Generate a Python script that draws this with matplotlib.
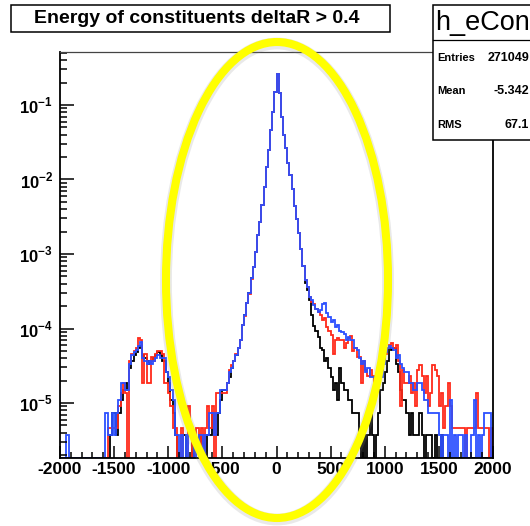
import numpy as np
import matplotlib.pyplot as plt
from matplotlib.patches import Ellipse, Rectangle
from matplotlib.lines import Line2D
from matplotlib.ticker import MultipleLocator, LogLocator, FuncFormatter, NullFormatter

plt.rcParams['font.family'] = ['Liberation Sans', 'DejaVu Sans']
plt.rcParams['mathtext.fontset'] = 'custom'
plt.rcParams['mathtext.rm'] = 'Liberation Sans'
plt.rcParams['mathtext.bf'] = 'Liberation Sans:bold'
plt.rcParams['axes.unicode_minus'] = False

# 200 bins of 20 from -2000 to 2000
edges = np.linspace(-2000, 2000, 201)
entries = 271049
entries_red = 217000

counts_black = [
    0, 0, 0, 0, 0, 0, 0, 0, 0, 0, 0, 0, 0, 0, 0, 0, 0, 0, 0, 0,
    0, 0, 0, 1, 2, 2, 1, 2, 3, 4, 5, 4, 8, 10, 12, 13, 15, 16, 12, 11,
    10, 9, 10, 11, 12, 13, 12, 10, 10, 7, 5, 3, 2, 1, 0, 0, 0, 1, 0, 0,
    0, 1, 0, 0, 1, 0, 1, 0, 1, 1, 2, 1, 1, 2, 3, 4, 4, 5, 6, 8,
    10, 12, 15, 19, 30, 41, 60, 82, 130, 180, 290, 490, 720, 1230, 2150, 3980, 6800, 12500, 21900, 40600,
    70800, 39400, 18700, 10700, 7080, 4470, 3090, 2000, 1200, 794, 525, 316, 186, 110, 90, 65, 41, 29, 25, 21,
    15, 14, 10, 11, 8, 6, 4, 5, 3, 8, 5, 4, 4, 3, 3, 2, 2, 2, 1, 0,
    1, 0, 1, 2, 1, 0, 1, 2, 4, 5, 7, 10, 15, 14, 15, 9, 7, 4, 3, 3,
    2, 1, 2, 1, 1, 1, 2, 1, 0, 1, 1, 1, 0, 1, 0, 0, 1, 0, 0, 0,
    0, 0, 0, 0, 0, 0, 0, 0, 0, 0, 0, 0, 0, 0, 0, 0, 0, 0, 0, 0,
]

counts_red = [
    0, 0, 0, 0, 0, 0, 0, 0, 0, 0, 0, 0, 0, 0, 0, 0, 0, 0, 0, 0,
    0, 0, 1, 1, 1, 1, 1, 2, 3, 4, 3, 0, 8, 10, 11, 12, 16, 15, 4, 10,
    4, 4, 9, 8, 10, 11, 11, 10, 4, 4, 3, 2, 1, 1, 0, 0, 1, 0, 0, 2,
    1, 0, 0, 1, 0, 1, 0, 1, 2, 1, 2, 0, 3, 3, 3, 3, 3, 4, 6, 7,
    8, 10, 12, 15, 24, 32, 48, 64, 100, 145, 230, 390, 575, 985, 1720, 3180, 5440, 10000, 17500, 32500,
    56600, 31500, 15000, 8560, 5660, 3580, 2470, 1600, 960, 635, 420, 250, 150, 96, 78, 58, 50, 46, 40, 36,
    33, 28, 30, 23, 20, 18, 10, 15, 16, 15, 15, 12, 14, 16, 17, 11, 12, 9, 9, 4,
    8, 6, 5, 6, 5, 4, 4, 5, 6, 8, 10, 12, 13, 14, 12, 13, 8, 2, 6, 4,
    4, 5, 3, 4, 2, 6, 7, 5, 3, 5, 2, 3, 7, 6, 5, 2, 3, 1, 2, 4,
    2, 1, 1, 1, 1, 1, 1, 0, 1, 1, 1, 1, 3, 1, 1, 1, 1, 1, 0, 1,
]

counts_blue = [
    0, 0, 0, 1, 0, 0, 0, 0, 0, 0, 0, 0, 0, 0, 0, 0, 0, 0, 0, 0,
    0, 2, 1, 1, 2, 1, 2, 3, 5, 5, 4, 4, 9, 12, 13, 14, 16, 18, 11, 10,
    9, 10, 9, 10, 11, 12, 11, 11, 11, 7, 6, 4, 3, 1, 1, 0, 1, 0, 1, 0,
    0, 0, 1, 0, 1, 1, 0, 1, 1, 2, 2, 1, 2, 2, 4, 4, 4, 5, 7, 8,
    10, 12, 15, 19, 30, 41, 60, 82, 130, 180, 290, 490, 720, 1230, 2150, 3980, 6800, 12500, 21900, 40600,
    70800, 39400, 18700, 10700, 7080, 4470, 3090, 2000, 1200, 794, 525, 316, 186, 120, 98, 72, 66, 56, 50, 45,
    48, 58, 60, 44, 39, 33, 35, 28, 30, 25, 24, 23, 19, 21, 19, 19, 15, 14, 11, 9,
    10, 7, 8, 6, 6, 6, 5, 5, 6, 9, 13, 15, 16, 15, 14, 11, 12, 9, 8, 7,
    7, 5, 5, 4, 4, 5, 5, 4, 3, 3, 2, 2, 2, 2, 2, 1, 0, 1, 1, 0,
    3, 0, 1, 0, 1, 1, 0, 1, 0, 0, 1, 3, 0, 1, 0, 1, 2, 2, 2, 0,
]

title = 'Energy of constituents deltaR > 0.4'
stats_name = 'h_eCon'
stats_rows = [('Entries', '271049'), ('Mean', '-5.342'), ('RMS', '67.1')]

W, H = 530, 526
ymin, ymax = 1.83e-6, 0.514

fig = plt.figure(figsize=(W / 100, H / 100), dpi=100)
ax = fig.add_axes([60 / W, 1 - 458 / H, 433 / W, 406 / H])


def scaled(counts, n):
    v = np.asarray(counts, dtype=float) / n
    # empty bins sit on the bottom of the frame, like ROOT does on a log axis
    return np.where(v > 0, v, ymin)


for counts, n, col in [(counts_black, entries, 'black'),
                       (counts_red, entries_red, '#ff2a1a'),
                       (counts_blue, entries, '#2b4fff')]:
    ax.stairs(scaled(counts, n), edges, baseline=ymin, color=col, lw=1.3)

ax.set_yscale('log')
ax.set_xlim(-2000, 2000)
ax.set_ylim(ymin, ymax)

ax.xaxis.set_major_locator(MultipleLocator(500))
ax.xaxis.set_minor_locator(MultipleLocator(100))
ax.yaxis.set_major_locator(LogLocator(base=10, numticks=12))
ax.yaxis.set_minor_locator(LogLocator(base=10, subs=np.arange(2, 10), numticks=12))
ax.yaxis.set_minor_formatter(NullFormatter())
ax.yaxis.set_major_formatter(FuncFormatter(
    lambda v, p: r'$\mathbf{10}^{\mathbf{%d}}$' % round(np.log10(v))))

ax.tick_params(which='both', direction='in', top=False, right=False, color='black')
ax.tick_params(axis='x', which='major', length=8.5, width=1.1, pad=3)
ax.tick_params(axis='x', which='minor', length=4.3, width=1.1)
ax.tick_params(axis='y', which='major', length=10, width=1.1, pad=5)
ax.tick_params(axis='y', which='minor', length=5, width=1.1)
for lab in ax.get_xticklabels():
    lab.set_fontsize(12.5)
    lab.set_fontweight('bold')
for lab in ax.get_yticklabels():
    lab.set_fontsize(12)

for side in ['left', 'bottom', 'right']:
    ax.spines[side].set_linewidth(1.3)
    ax.spines[side].set_color('black')
ax.spines['top'].set_linewidth(0.9)
ax.spines['top'].set_color('#444444')

# title box
fig.add_artist(Rectangle((11 / W, 1 - 32 / H), 379 / W, 27 / H, transform=fig.transFigure,
                         facecolor='white', edgecolor='black', lw=1.1, zorder=2))
fig.text(197 / W, 1 - 18.5 / H, title, ha='center', va='center',
         fontsize=14, fontweight='bold', zorder=3)

# statistics box, running off the right edge
fig.add_artist(Rectangle((433 / W, 1 - 140 / H), 120 / W, 135 / H, transform=fig.transFigure,
                         facecolor='white', edgecolor='black', lw=1.1, zorder=2))
fig.add_artist(Line2D([433 / W, 1.0], [1 - 40 / H, 1 - 40 / H], transform=fig.transFigure,
                      color='black', lw=0.9, zorder=3))
fig.text(435 / W, 1 - 23 / H, stats_name, ha='left', va='center', fontsize=19.5, zorder=4)
for (name, val), yv in zip(stats_rows, [58, 91, 125]):
    fig.text(437 / W, 1 - yv / H, name, ha='left', va='center', fontsize=8,
             fontweight='bold', zorder=4)
    fig.text(529 / W, 1 - yv / H, val, ha='right', va='center', fontsize=9,
             fontweight='bold', zorder=4)

# highlight ring around the core of the distribution
cx, cy, a, b = 277, 280, 111, 238
fig.add_artist(Ellipse((cx / W, 1 - (cy + 1.5) / H), 2 * a / W, 2 * b / H, transform=fig.transFigure,
                       fill=False, edgecolor='#888888', alpha=0.18, lw=8.5, zorder=9))
fig.add_artist(Ellipse((cx / W, 1 - cy / H), 2 * a / W, 2 * b / H, transform=fig.transFigure,
                       fill=False, edgecolor='#ffff00', lw=5.8, zorder=10))

fig.savefig('out.png', dpi=100)
